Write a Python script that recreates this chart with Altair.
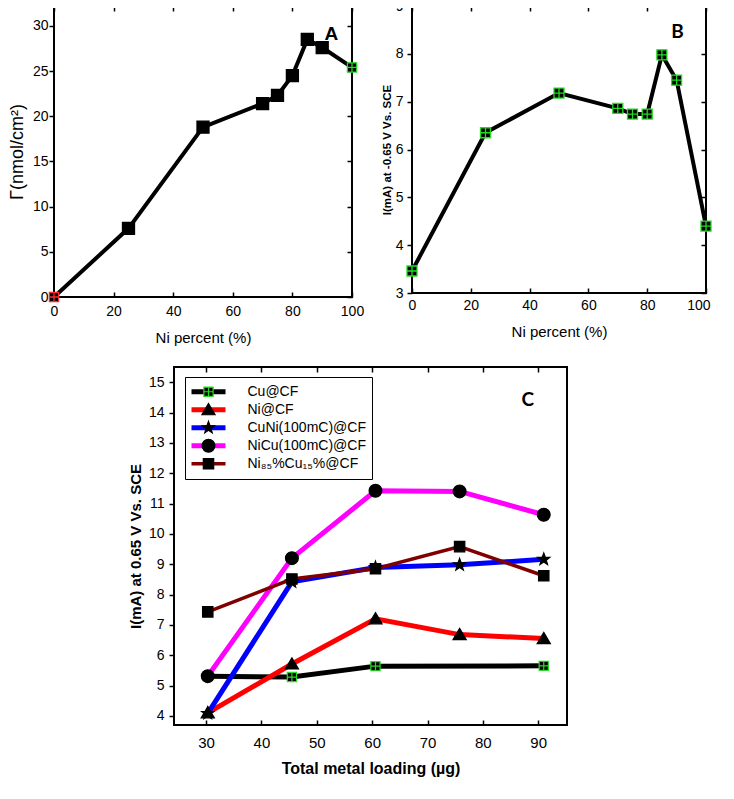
import math
import altair as alt
import pandas as pd

# ---------------- data ----------------
# Panel A: surface coverage vs Ni percent
a_ni_percent = [0, 25, 50, 70, 75, 80, 85, 90, 100]
a_gamma = [0.0, 7.6, 18.8, 21.4, 22.3, 24.5, 28.5, 27.6, 25.4]
a_point_kind = ["start", "mid", "mid", "mid", "mid", "mid", "mid", "mid", "end"]
a_xticks = [0, 20, 40, 60, 80, 100]
a_yticks = [0, 5, 10, 15, 20, 25, 30]

# Panel B: current vs Ni percent
b_ni_percent = [0, 25, 50, 70, 75, 80, 85, 90, 100]
b_current = [3.46, 6.35, 7.18, 6.86, 6.74, 6.74, 7.98, 7.45, 4.40]
b_xticks = [0, 20, 40, 60, 80, 100]
b_yticks = [3, 4, 5, 6, 7, 8, 9]

# Panel C: current vs total metal loading
c_loading = [30.3, 45.5, 60.6, 75.8, 91.0]
c_series_names = ["Cu@CF", "Ni@CF", "CuNi(100mC)@CF", "NiCu(100mC)@CF", "Ni₈₅%Cu₁₅%@CF"]
c_cu = [5.31, 5.28, 5.64, None, 5.65]
c_ni = [4.10, 5.71, 7.20, 6.68, 6.55]
c_cuni = [4.08, 8.42, 8.89, 8.98, 9.16]
c_nicu = [5.31, 9.20, 11.42, 11.40, 10.63]
c_ni85 = [7.43, 8.51, 8.85, 9.58, 8.62]
c_xticks = [30, 40, 50, 60, 70, 80, 90]
c_yticks = [4, 5, 6, 7, 8, 9, 10, 11, 12, 13, 14, 15]

panel_labels = ["A", "B", "C"]

# ---------------- tables ----------------
df_a = pd.DataFrame({"ni": a_ni_percent, "gamma": a_gamma, "kind": a_point_kind})
df_b = pd.DataFrame({"ni": b_ni_percent, "current": b_current})

# marker key: same names with a trailing space so the marker legend stays separate
c_marker_keys = [n + " " for n in c_series_names]
rows = []
for name, key, vals in zip(c_series_names, c_marker_keys, [c_cu, c_ni, c_cuni, c_nicu, c_ni85]):
    for x, v in zip(c_loading, vals):
        if v is None:
            continue
        rows.append({"loading": x, "current": v, "series": name, "series_m": key})
df_c = pd.DataFrame(rows)

# ---------------- styles ----------------
FONT = "Liberation Sans"
GREEN = "#22dd22"
RED_EDGE = "#ff2a2a"


def sq(h):
    return f"M{-h:.3f},{-h:.3f}H{h:.3f}V{h:.3f}H{-h:.3f}Z"


def grid_sq(h):
    return f"M{-h:.3f},{-h:.3f}H{h:.3f}V{h:.3f}H{-h:.3f}Z M{-h:.3f},0H{h:.3f} M0,{-h:.3f}V{h:.3f}"


def star(r_out, r_in):
    pts = []
    for k in range(10):
        ang = -math.pi / 2 + k * math.pi / 5
        r = r_out if k % 2 == 0 else r_in
        pts.append(f"{r * math.cos(ang):.3f},{r * math.sin(ang):.3f}")
    return "M" + "L".join(pts) + "Z"


def circle(r):
    return f"M{r:.3f},0A{r:.3f},{r:.3f} 0 1,1 {-r:.3f},0A{r:.3f},{r:.3f} 0 1,1 {r:.3f},0Z"


def triangle(hw, top, bot):
    return f"M0,{-top:.3f}L{hw:.3f},{bot:.3f}L{-hw:.3f},{bot:.3f}Z"


# marker size 132.25 -> 11.5 px across [-1, 1]; unit = 5.75 px
MS = 132.25
U = 5.75
LINE_SYM = "M-4.25,0H4.25"   # legend line (symbol size 64 -> 4 px per unit)

c_colors = ["black", "#ff0000", "#0000ff", "#ff00ff", "#800000"]
c_widths = [5, 5, 5, 5, 3.5]
c_shapes = [grid_sq(4.6 / U), triangle(6.6 / U, 6.2 / U, 5.0 / U), star(6.4 / U, 2.6 / U),
            circle(6.4 / U), sq(5.2 / U)]
c_edges = [GREEN, "black", "black", "black", "black"]


def tick_axis(orient, values):
    return alt.Axis(orient=orient, values=values, labels=False, domain=False,
                    title=None, ticks=True, tickSize=5, offset=-5, grid=False,
                    minExtent=0, maxExtent=5)


def label_layer(letter, xv, yv, font, size):
    return alt.Chart(pd.DataFrame({"label": [letter]})).mark_text(
        font=font, fontSize=size, fontWeight="bold", color="black"
    ).encode(
        x=alt.XDatum(xv, axis=None),
        y=alt.YDatum(yv, axis=None),
        text="label:N",
    )


INDEP = dict(shape="independent", stroke="independent", color="independent",
             strokeWidth="independent")

# ---------------- panel A ----------------
a_xs = alt.Scale(domain=[0, 100], nice=False, zero=False)
a_ys = alt.Scale(domain=[0, 32.2], nice=False, zero=False)

a_line = alt.Chart(df_a).mark_line(color="black", strokeWidth=4).encode(
    x=alt.X("ni:Q", scale=a_xs, axis=alt.Axis(
        orient="bottom", values=a_xticks, offset=-5, tickSize=5, domain=False,
        labelPadding=7, labelFontSize=14, labelFlush=False,
        title="Ni percent (%)", titleFontSize=15, titleFontWeight="normal", titlePadding=12)),
    y=alt.Y("gamma:Q", scale=a_ys, axis=alt.Axis(
        orient="left", values=a_yticks, tickSize=5, domain=False,
        labelPadding=1, labelFontSize=14,
        title="Γ(nmol/cm²)", titleFontSize=18, titleFontWeight="normal", titlePadding=6)),
)
a_pts = alt.Chart(df_a).mark_point(filled=True, color="black", size=MS, strokeWidth=1.3, opacity=1).encode(
    x=alt.X("ni:Q", scale=a_xs, axis=tick_axis("top", a_xticks)),
    y=alt.Y("gamma:Q", scale=a_ys, axis=tick_axis("right", a_yticks)),
    shape=alt.Shape("kind:N", scale=alt.Scale(domain=["start", "mid", "end"],
                                              range=[grid_sq(4.6 / U), sq(6.0 / U), grid_sq(4.6 / U)]),
                    legend=None),
    stroke=alt.Stroke("kind:N", scale=alt.Scale(domain=["start", "mid", "end"],
                                                range=[RED_EDGE, "black", GREEN]), legend=None),
)
panel_a = alt.layer(a_line, a_pts, label_layer(panel_labels[0], 93.1, 29.1, FONT, 19)).resolve_axis(
    x="independent", y="independent").properties(width=298, height=291)

# ---------------- panel B ----------------
b_xs = alt.Scale(domain=[0, 100], nice=False, zero=False)
b_ys = alt.Scale(domain=[3, 9], nice=False, zero=False)

b_line = alt.Chart(df_b).mark_line(color="black", strokeWidth=4).encode(
    x=alt.X("ni:Q", scale=b_xs, axis=alt.Axis(
        orient="bottom", values=b_xticks, offset=-5, tickSize=5, domain=False,
        labelPadding=5, labelFontSize=14, labelFlush=True, labelFlushOffset=4,
        title="Ni percent (%)", titleFontSize=15, titleFontWeight="normal", titlePadding=12)),
    y=alt.Y("current:Q", scale=b_ys, axis=alt.Axis(
        orient="left", values=b_yticks, tickSize=5, domain=False,
        labelPadding=4, labelFontSize=14,
        title="I(mA) at -0.65 V Vs. SCE", titleFontSize=11.5, titleFontWeight="bold", titlePadding=3)),
)
b_pts = alt.Chart(df_b).mark_point(filled=True, color="black", size=MS, strokeWidth=1.3, opacity=1,
                                   shape=grid_sq(5.0 / U), stroke=GREEN).encode(
    x=alt.X("ni:Q", scale=b_xs, axis=tick_axis("top", b_xticks)),
    y=alt.Y("current:Q", scale=b_ys, axis=tick_axis("right", b_yticks)),
)
panel_b = alt.layer(b_line, b_pts, label_layer(panel_labels[1], 90.3, 8.46, "Lato", 19)).resolve_axis(
    x="independent", y="independent").properties(width=294, height=287)

# ---------------- panel C ----------------
c_xs = alt.Scale(domain=[24.2, 95.2], nice=False, zero=False)
c_ys = alt.Scale(domain=[3.7, 15.5], nice=False, zero=False)

leg_common = dict(orient="none", legendX=11, legendY=10, title=None,
                  labelFont=FONT, labelFontSize=14, labelLimit=400,
                  rowPadding=0, clipHeight=17.5, padding=6)

c_line = alt.Chart(df_c).mark_line().encode(
    x=alt.X("loading:Q", scale=c_xs, axis=alt.Axis(
        orient="bottom", values=c_xticks, offset=-5, tickSize=5, domain=False,
        labelPadding=10, labelFontSize=15, labelFlush=False,
        title="Total metal loading (µg)", titleFontSize=16, titleFontWeight="bold", titlePadding=10)),
    y=alt.Y("current:Q", scale=c_ys, axis=alt.Axis(
        orient="left", values=c_yticks, tickSize=5, domain=False,
        labelPadding=5, labelFontSize=14,
        title="I(mA) at 0.65 V Vs. SCE", titleFontSize=15, titleFontWeight="bold", titlePadding=5)),
    color=alt.Color("series:N", scale=alt.Scale(domain=c_series_names, range=c_colors),
                    legend=alt.Legend(symbolType=LINE_SYM, symbolSize=64, symbolStrokeWidth=4.5,
                                      symbolOffset=10.5, labelOffset=32,
                                      strokeColor="black", fillColor="white", labelColor="black",
                                      **leg_common)),
    strokeWidth=alt.StrokeWidth("series:N", scale=alt.Scale(type="ordinal", domain=c_series_names,
                                                            range=c_widths), legend=None),
)
shape_legend = alt.Legend(symbolSize=MS, symbolStrokeWidth=1.2, symbolOffset=10.5, labelOffset=32,
                          labelOpacity=0, **leg_common)
c_pts = alt.Chart(df_c).mark_point(filled=True, color="black", size=MS, strokeWidth=1.2, opacity=1).encode(
    x=alt.X("loading:Q", scale=c_xs, axis=tick_axis("top", c_xticks)),
    y=alt.Y("current:Q", scale=c_ys, axis=alt.Axis(
        orient="right", ticks=False, labels=False, domain=False, offset=-5,
        minExtent=0, maxExtent=0,
        title="I", titleOpacity=0, titleFontSize=14, titlePadding=18)),
    shape=alt.Shape("series_m:N", scale=alt.Scale(domain=c_marker_keys, range=c_shapes),
                    legend=shape_legend),
    stroke=alt.Stroke("series_m:N", scale=alt.Scale(domain=c_marker_keys, range=c_edges),
                      legend=shape_legend),
)
panel_c = alt.layer(c_line, c_pts, label_layer(panel_labels[2], 88.1, 14.41, "Lato", 19)).resolve_axis(
    x="independent", y="independent").properties(width=393, height=358)

# ---------------- assemble ----------------
top_row = alt.hconcat(panel_a, panel_b, spacing=15).resolve_scale(**INDEP)
chart = alt.vconcat(top_row, panel_c, spacing=19, center=True).resolve_scale(**INDEP).properties(
    padding={"left": -1, "top": -10, "right": 0, "bottom": 0}
).configure_view(
    stroke="black", strokeWidth=2
).configure_axis(
    grid=False, labelFont=FONT, titleFont=FONT, labelColor="black", titleColor="black",
    tickColor="black", tickWidth=1.5
)

chart.save("out.html", embed_options={"renderer": "svg", "actions": False})
